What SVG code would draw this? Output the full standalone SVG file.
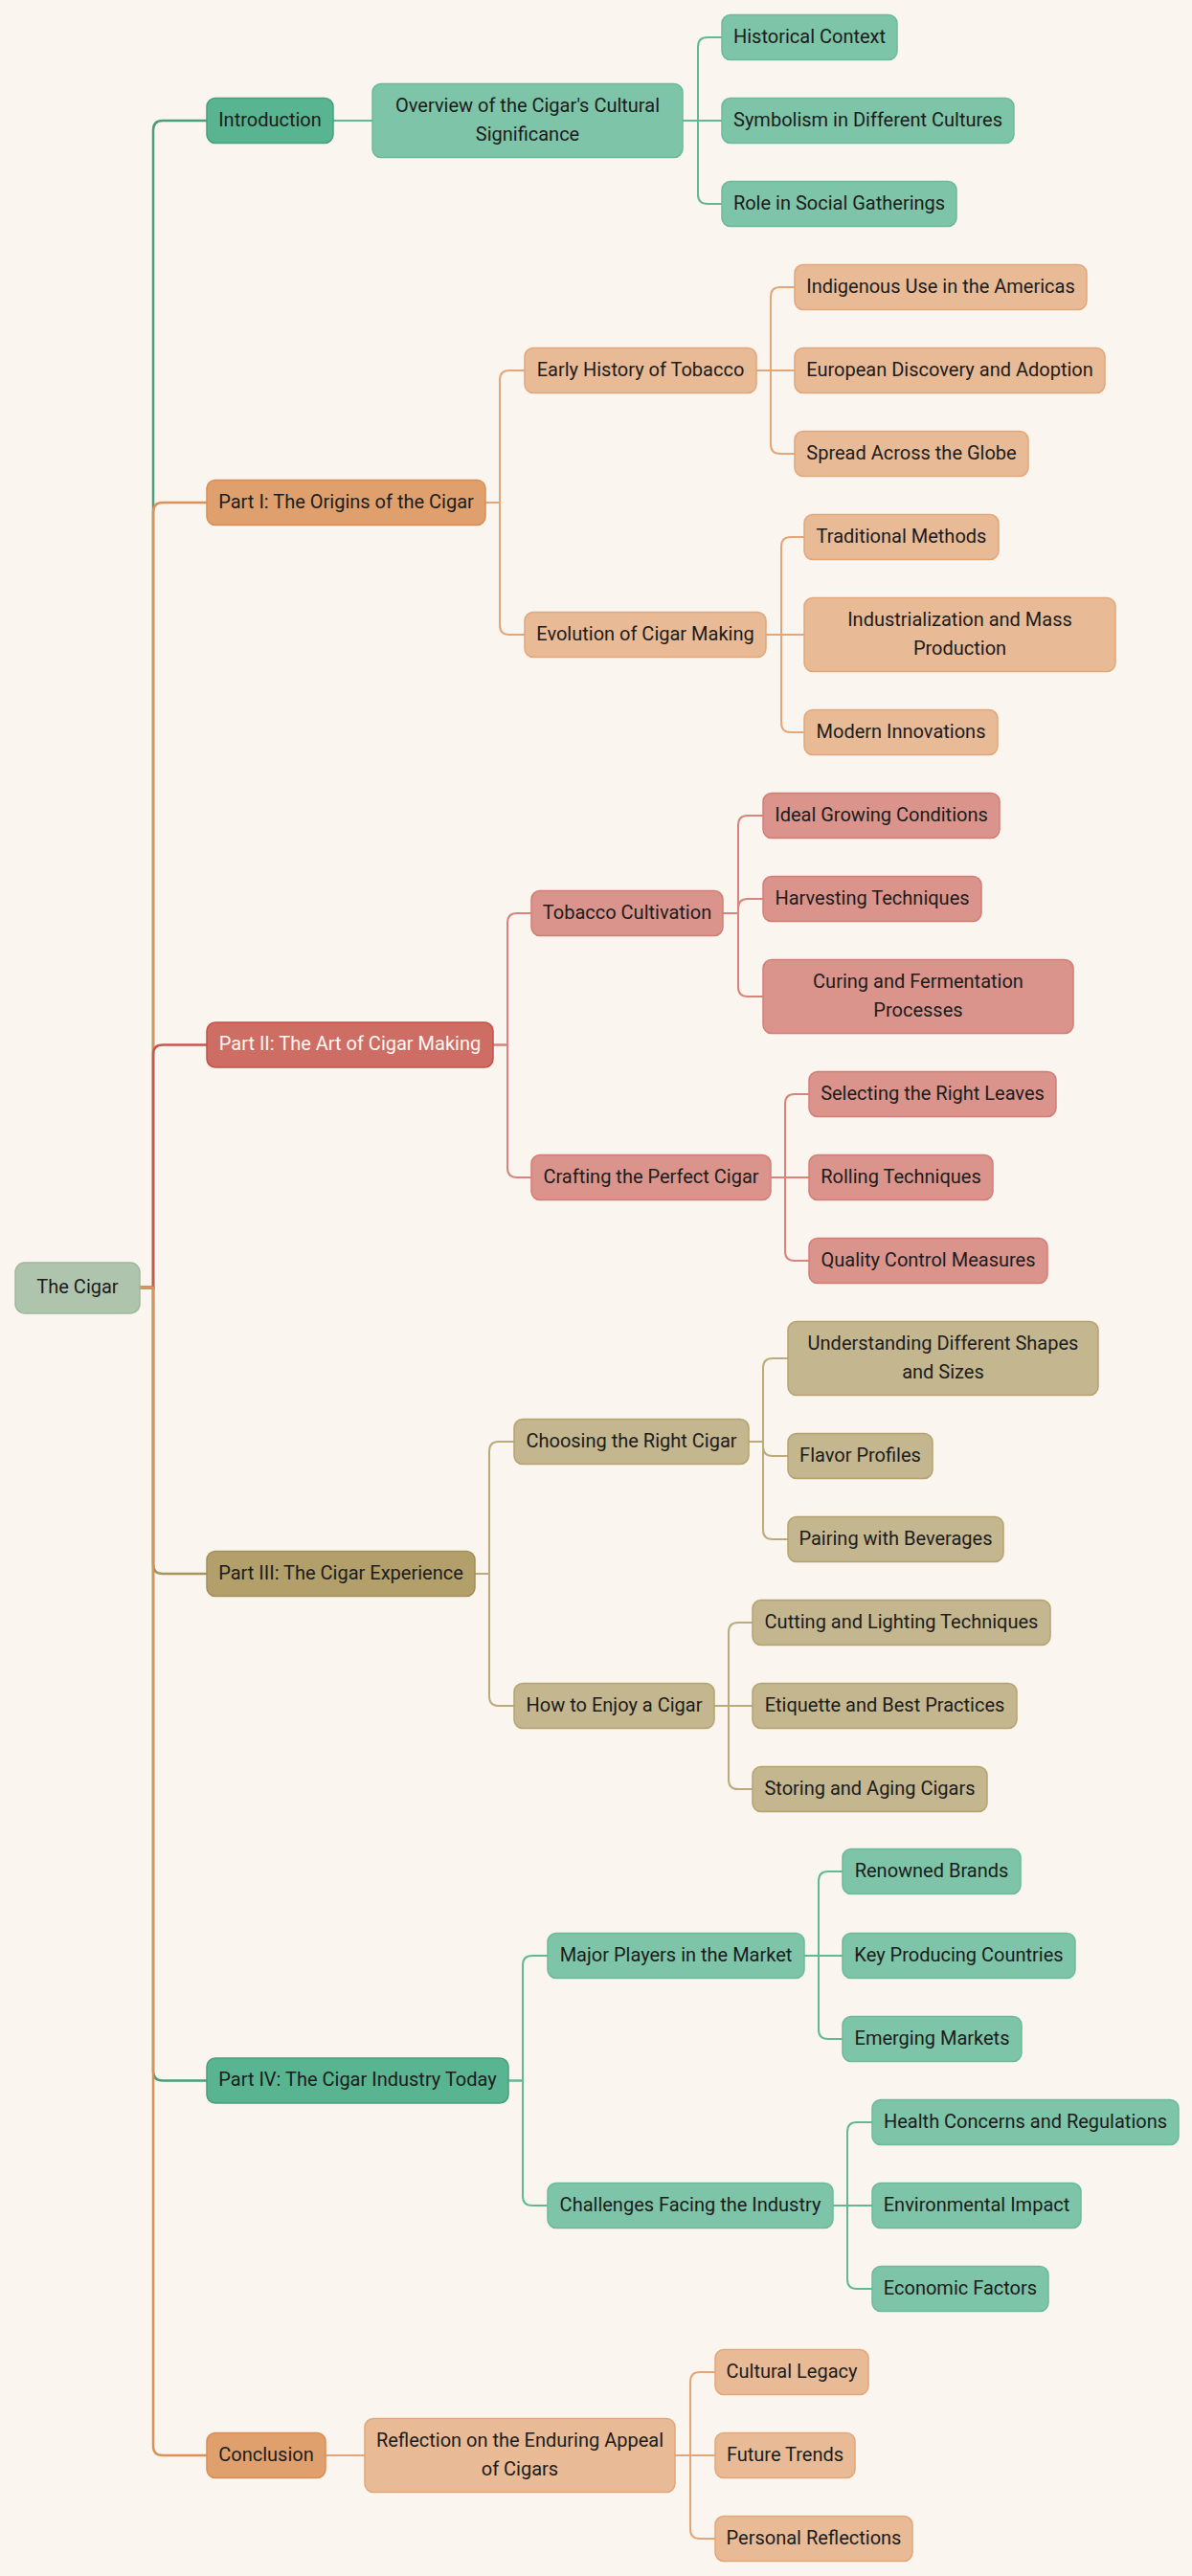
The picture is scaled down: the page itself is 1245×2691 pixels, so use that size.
<svg xmlns="http://www.w3.org/2000/svg" width="1245" height="2691" viewBox="0 0 1245 2691">
<style>
text{font-family:Roboto,"Liberation Sans",sans-serif;font-size:20px;fill:#1c1c1c;text-anchor:middle}
.n rect{stroke-width:1.5}
.root rect{fill:#AFC4AD;stroke:#9DB89B}
.g1 rect{fill:#58B491;stroke:#4A9E7D}
.g2 rect{fill:#7DC4A8;stroke:#6CBA9B}
.o1 rect{fill:#E0A06D;stroke:#D88D52}
.o2 rect{fill:#E8BA96;stroke:#E2A77A}
.r1 rect{fill:#CD6D64;stroke:#C0534B}
.r1 text{fill:#FBF7F2}
.r2 rect{fill:#DA948C;stroke:#D27D75}
.t1 rect{fill:#B29F69;stroke:#A38F58}
.t2 rect{fill:#C4B68E;stroke:#B5A46E}
.e path{fill:none;stroke-width:2}
.e .L1{stroke-width:2.5}
.eg1{stroke:#4A9E7D}.eg2{stroke:#62B795}
.eo1{stroke:#DC9158}.eo2{stroke:#E3A678}
.er1{stroke:#C9574F}.er2{stroke:#D6847C}
.et1{stroke:#A8955E}.et2{stroke:#BBAA7C}
</style>
<rect x="0" y="0" width="1245" height="2691" fill="#FAF5EE"/>
<g id="connectors" class="e">
<path class="L1 eg1" d="M146,1345 H160 V136 Q160,126 170,126 H216"/>
<path class="L1 eo1" d="M146,1345 H160 V535 Q160,525 170,525 H216"/>
<path class="L1 er1" d="M146,1345 H160 V1101.5 Q160,1091.5 170,1091.5 H216"/>
<path class="L1 et1" d="M146,1345 H160 V1634 Q160,1644 170,1644 H216"/>
<path class="L1 eg1" d="M146,1345 H160 V2163.5 Q160,2173.5 170,2173.5 H216"/>
<path class="L1 eo1" d="M146,1345 H160 V2555 Q160,2565 170,2565 H216"/>

<path class="eg2" d="M348,126 H389"/>
<path class="eo2" d="M507,525 H522 V397 Q522,387 532,387 H548"/>
<path class="eo2" d="M507,525 H522 V653 Q522,663 532,663 H548"/>
<path class="er2" d="M515,1091.5 H530 V964 Q530,954 540,954 H555"/>
<path class="er2" d="M515,1091.5 H530 V1220 Q530,1230 540,1230 H555"/>
<path class="et2" d="M496,1644 H511 V1516 Q511,1506 521,1506 H537"/>
<path class="et2" d="M496,1644 H511 V1772 Q511,1782 521,1782 H537"/>
<path class="eg2" d="M531,2173.5 H546 V2053 Q546,2043 556,2043 H572"/>
<path class="eg2" d="M531,2173.5 H546 V2294 Q546,2304 556,2304 H572"/>
<path class="eo2" d="M340,2565 H381"/>

<path class="eg2" d="M713,126 H729 V49 Q729,39 739,39 H754"/>
<path class="eg2" d="M713,126 H754"/>
<path class="eg2" d="M713,126 H729 V203 Q729,213 739,213 H754"/>
<path class="eo2" d="M790,387 H805 V310 Q805,300 815,300 H830"/>
<path class="eo2" d="M790,387 H830"/>
<path class="eo2" d="M790,387 H805 V464 Q805,474 815,474 H830"/>
<path class="eo2" d="M800,663 H816 V571 Q816,561 826,561 H840"/>
<path class="eo2" d="M800,663 H840"/>
<path class="eo2" d="M800,663 H816 V755 Q816,765 826,765 H840"/>
<path class="er2" d="M755,954 H771 V862 Q771,852 781,852 H797"/>
<path class="er2" d="M755,954 H771 V949 Q771,939 781,939 H797"/>
<path class="er2" d="M755,954 H771 V1031 Q771,1041 781,1041 H797"/>
<path class="er2" d="M805,1230 H820 V1153 Q820,1143 830,1143 H845"/>
<path class="er2" d="M805,1230 H845"/>
<path class="er2" d="M805,1230 H820 V1307 Q820,1317 830,1317 H845"/>
<path class="et2" d="M782,1506 H797 V1429 Q797,1419 807,1419 H823"/>
<path class="et2" d="M782,1506 H797 V1511 Q797,1521 807,1521 H823"/>
<path class="et2" d="M782,1506 H797 V1598 Q797,1608 807,1608 H823"/>
<path class="et2" d="M746,1782 H761 V1705 Q761,1695 771,1695 H786"/>
<path class="et2" d="M746,1782 H786"/>
<path class="et2" d="M746,1782 H761 V1859 Q761,1869 771,1869 H786"/>
<path class="eg2" d="M840,2043 H855 V1965 Q855,1955 865,1955 H880"/>
<path class="eg2" d="M840,2043 H880"/>
<path class="eg2" d="M840,2043 H855 V2120 Q855,2130 865,2130 H880"/>
<path class="eg2" d="M870,2304 H885 V2227 Q885,2217 895,2217 H911"/>
<path class="eg2" d="M870,2304 H911"/>
<path class="eg2" d="M870,2304 H885 V2381 Q885,2391 895,2391 H911"/>
<path class="eo2" d="M705,2565 H721 V2488 Q721,2478 731,2478 H747"/>
<path class="eo2" d="M705,2565 H747"/>
<path class="eo2" d="M705,2565 H721 V2642 Q721,2652 731,2652 H747"/>
</g>

<g id="n-root" class="n root"><rect x="16" y="1319" width="130" height="53" rx="10"/><text x="81" y="1350.5">The Cigar</text></g>

<g id="n-intro" class="n g1"><rect x="216" y="102.5" width="132" height="47" rx="9"/><text x="282" y="131.5">Introduction</text></g>
<g id="n-part1" class="n o1"><rect x="216" y="501.5" width="291" height="47" rx="9"/><text x="361.5" y="530.5">Part I: The Origins of the Cigar</text></g>
<g id="n-part2" class="n r1"><rect x="216" y="1068" width="299" height="47" rx="9"/><text x="365.5" y="1097">Part II: The Art of Cigar Making</text></g>
<g id="n-part3" class="n t1"><rect x="216" y="1620.5" width="280" height="47" rx="9"/><text x="356" y="1649.5">Part III: The Cigar Experience</text></g>
<g id="n-part4" class="n g1"><rect x="216" y="2150" width="315" height="47" rx="9"/><text x="373.5" y="2179">Part IV: The Cigar Industry Today</text></g>
<g id="n-concl" class="n o1"><rect x="216" y="2541.5" width="124" height="47" rx="9"/><text x="278" y="2570.5">Conclusion</text></g>

<g id="n-overview" class="n g2"><rect x="389" y="87.5" width="324" height="77" rx="9"/><text x="551" y="116.5">Overview of the Cigar's Cultural</text><text x="551" y="146.5">Significance</text></g>
<g id="n-early" class="n o2"><rect x="548" y="363.5" width="242" height="47" rx="9"/><text x="669" y="392.5">Early History of Tobacco</text></g>
<g id="n-evol" class="n o2"><rect x="548" y="639.5" width="252" height="47" rx="9"/><text x="674" y="668.5">Evolution of Cigar Making</text></g>
<g id="n-tobacco" class="n r2"><rect x="555" y="930.5" width="200" height="47" rx="9"/><text x="655" y="959.5">Tobacco Cultivation</text></g>
<g id="n-crafting" class="n r2"><rect x="555" y="1206.5" width="250" height="47" rx="9"/><text x="680" y="1235.5">Crafting the Perfect Cigar</text></g>
<g id="n-choosing" class="n t2"><rect x="537" y="1482.5" width="245" height="47" rx="9"/><text x="659.5" y="1511.5">Choosing the Right Cigar</text></g>
<g id="n-enjoy" class="n t2"><rect x="537" y="1758.5" width="209" height="47" rx="9"/><text x="641.5" y="1787.5">How to Enjoy a Cigar</text></g>
<g id="n-major" class="n g2"><rect x="572" y="2019.5" width="268" height="47" rx="9"/><text x="706" y="2048.5">Major Players in the Market</text></g>
<g id="n-challenges" class="n g2"><rect x="572" y="2280.5" width="298" height="47" rx="9"/><text x="721" y="2309.5">Challenges Facing the Industry</text></g>
<g id="n-reflection" class="n o2"><rect x="381" y="2526.5" width="324" height="77" rx="9"/><text x="543" y="2555.5">Reflection on the Enduring Appeal</text><text x="543" y="2585.5">of Cigars</text></g>

<g id="n-hist" class="n g2"><rect x="754" y="15.5" width="183" height="47" rx="9"/><text x="845.5" y="44.5">Historical Context</text></g>
<g id="n-symb" class="n g2"><rect x="754" y="102.5" width="305" height="47" rx="9"/><text x="906.5" y="131.5">Symbolism in Different Cultures</text></g>
<g id="n-role" class="n g2"><rect x="754" y="189.5" width="245" height="47" rx="9"/><text x="876.5" y="218.5">Role in Social Gatherings</text></g>
<g id="n-indig" class="n o2"><rect x="830" y="276.5" width="305" height="47" rx="9"/><text x="982.5" y="305.5">Indigenous Use in the Americas</text></g>
<g id="n-euro" class="n o2"><rect x="830" y="363.5" width="324" height="47" rx="9"/><text x="992" y="392.5">European Discovery and Adoption</text></g>
<g id="n-spread" class="n o2"><rect x="830" y="450.5" width="244" height="47" rx="9"/><text x="952" y="479.5">Spread Across the Globe</text></g>
<g id="n-trad" class="n o2"><rect x="840" y="537.5" width="203" height="47" rx="9"/><text x="941.5" y="566.5">Traditional Methods</text></g>
<g id="n-indus" class="n o2"><rect x="840" y="624.5" width="325" height="77" rx="9"/><text x="1002.5" y="653.5">Industrialization and Mass</text><text x="1002.5" y="683.5">Production</text></g>
<g id="n-modern" class="n o2"><rect x="840" y="741.5" width="202" height="47" rx="9"/><text x="941" y="770.5">Modern Innovations</text></g>
<g id="n-ideal" class="n r2"><rect x="797" y="828.5" width="247" height="47" rx="9"/><text x="920.5" y="857.5">Ideal Growing Conditions</text></g>
<g id="n-harv" class="n r2"><rect x="797" y="915.5" width="228" height="47" rx="9"/><text x="911" y="944.5">Harvesting Techniques</text></g>
<g id="n-curing" class="n r2"><rect x="797" y="1002.5" width="324" height="77" rx="9"/><text x="959" y="1031.5">Curing and Fermentation</text><text x="959" y="1061.5">Processes</text></g>
<g id="n-select" class="n r2"><rect x="845" y="1119.5" width="258" height="47" rx="9"/><text x="974" y="1148.5">Selecting the Right Leaves</text></g>
<g id="n-rolling" class="n r2"><rect x="845" y="1206.5" width="192" height="47" rx="9"/><text x="941" y="1235.5">Rolling Techniques</text></g>
<g id="n-quality" class="n r2"><rect x="845" y="1293.5" width="249" height="47" rx="9"/><text x="969.5" y="1322.5">Quality Control Measures</text></g>
<g id="n-under" class="n t2"><rect x="823" y="1380.5" width="324" height="77" rx="9"/><text x="985" y="1409.5">Understanding Different Shapes</text><text x="985" y="1439.5">and Sizes</text></g>
<g id="n-flavor" class="n t2"><rect x="823" y="1497.5" width="151" height="47" rx="9"/><text x="898.5" y="1526.5">Flavor Profiles</text></g>
<g id="n-pairing" class="n t2"><rect x="823" y="1584.5" width="225" height="47" rx="9"/><text x="935.5" y="1613.5">Pairing with Beverages</text></g>
<g id="n-cutting" class="n t2"><rect x="786" y="1671.5" width="311" height="47" rx="9"/><text x="941.5" y="1700.5">Cutting and Lighting Techniques</text></g>
<g id="n-etiq" class="n t2"><rect x="786" y="1758.5" width="276" height="47" rx="9"/><text x="924" y="1787.5">Etiquette and Best Practices</text></g>
<g id="n-storing" class="n t2"><rect x="786" y="1845.5" width="245" height="47" rx="9"/><text x="908.5" y="1874.5">Storing and Aging Cigars</text></g>
<g id="n-renowned" class="n g2"><rect x="880" y="1931.5" width="186" height="47" rx="9"/><text x="973" y="1960.5">Renowned Brands</text></g>
<g id="n-key" class="n g2"><rect x="880" y="2019.5" width="243" height="47" rx="9"/><text x="1001.5" y="2048.5">Key Producing Countries</text></g>
<g id="n-emerging" class="n g2"><rect x="880" y="2106.5" width="187" height="47" rx="9"/><text x="973.5" y="2135.5">Emerging Markets</text></g>
<g id="n-health" class="n g2"><rect x="911" y="2193.5" width="320" height="47" rx="9"/><text x="1071" y="2222.5">Health Concerns and Regulations</text></g>
<g id="n-env" class="n g2"><rect x="911" y="2280.5" width="218" height="47" rx="9"/><text x="1020" y="2309.5">Environmental Impact</text></g>
<g id="n-econ" class="n g2"><rect x="911" y="2367.5" width="184" height="47" rx="9"/><text x="1003" y="2396.5">Economic Factors</text></g>
<g id="n-legacy" class="n o2"><rect x="747" y="2454.5" width="160" height="47" rx="9"/><text x="827" y="2483.5">Cultural Legacy</text></g>
<g id="n-future" class="n o2"><rect x="747" y="2541.5" width="146" height="47" rx="9"/><text x="820" y="2570.5">Future Trends</text></g>
<g id="n-personal" class="n o2"><rect x="747" y="2628.5" width="206" height="47" rx="9"/><text x="850" y="2657.5">Personal Reflections</text></g>
</svg>
